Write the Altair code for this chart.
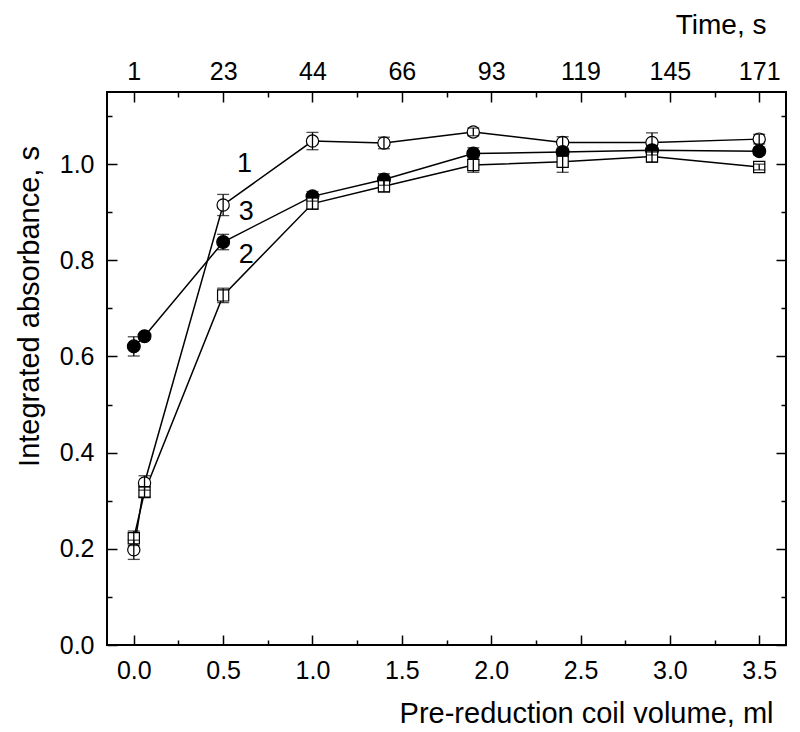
import altair as alt
import pandas as pd

# ---- data ----
volume = [0.0, 0.06, 0.5, 1.0, 1.4, 1.9, 2.4, 2.9, 3.5]

s1_vals = [0.198, 0.337, 0.915, 1.048, 1.044, 1.067, 1.045, 1.045, 1.052]
s1_errs = [0.020, 0.015, 0.022, 0.018, 0.012, 0.008, 0.012, 0.020, 0.010]

s3_vals = [0.621, 0.642, 0.838, 0.933, 0.968, 1.022, 1.025, 1.029, 1.027]
s3_errs = [0.020, 0.006, 0.016, 0.010, 0.012, 0.012, 0.008, 0.010, 0.008]

s2_vals = [0.222, 0.318, 0.727, 0.918, 0.954, 0.998, 1.005, 1.016, 0.994]
s2_errs = [0.015, 0.010, 0.015, 0.012, 0.012, 0.015, 0.022, 0.012, 0.006]

x_ticks = [0.0, 0.5, 1.0, 1.5, 2.0, 2.5, 3.0, 3.5]
time_labels = ["1", "23", "44", "66", "93", "119", "145", "171"]
x_minor = [0.25, 0.75, 1.25, 1.75, 2.25, 2.75, 3.25]
y_ticks = [0.0, 0.2, 0.4, 0.6, 0.8, 1.0]
y_minor = [0.1, 0.3, 0.5, 0.7, 0.9, 1.1]

series_names = ["1", "3", "2"]
label_x = [0.62, 0.63, 0.63]
label_y = [1.0, 0.90, 0.81]

# ---- tables ----
rows = []
for name, vals, errs in [("1", s1_vals, s1_errs), ("3", s3_vals, s3_errs), ("2", s2_vals, s2_errs)]:
    for xv, yv, e in zip(volume, vals, errs):
        rows.append({"series": name, "x": xv, "y": yv, "lo": yv - e, "hi": yv + e})
df = pd.DataFrame(rows)
labels_df = pd.DataFrame({"name": series_names, "x": label_x, "y": label_y})

FONT = "Liberation Sans"
xs = alt.Scale(domain=[-0.15, 3.65], nice=False, zero=False)
ys = alt.Scale(domain=[0, 1.15], nice=False, zero=False)

base = alt.Chart(df)

lines = base.mark_line(color="black", strokeWidth=1.5).encode(
    x=alt.X("x:Q", scale=xs, axis=None),
    y=alt.Y("y:Q", scale=ys, axis=None),
    detail="series:N",
)

def pts(series, shape, fill, size):
    return base.transform_filter(alt.datum.series == series).mark_point(
        shape=shape, filled=True, fill=fill, stroke="black", strokeWidth=1.2, size=size, opacity=1
    ).encode(
        x=alt.X("x:Q", scale=xs, axis=None),
        y=alt.Y("y:Q", scale=ys, axis=None),
    )

p1 = pts("1", "circle", "white", 150)
p3 = pts("3", "circle", "black", 165)
p2 = pts("2", "square", "white", 125)

err_rule = base.mark_rule(color="black", strokeWidth=1.3).encode(
    x=alt.X("x:Q", scale=xs, axis=None),
    y=alt.Y("lo:Q", scale=ys, axis=None),
    y2="hi:Q",
)
caps = base.transform_fold(["lo", "hi"], as_=["end", "val"]).mark_tick(
    orient="horizontal", color="black", size=12, thickness=1.3
).encode(
    x=alt.X("x:Q", scale=xs, axis=None),
    y=alt.Y("val:Q", scale=ys, axis=None),
)

texts = alt.Chart(labels_df).mark_text(font=FONT, fontSize=27, color="black").encode(
    x=alt.X("x:Q", scale=xs, axis=None),
    y=alt.Y("y:Q", scale=ys, axis=None),
    text="name:N",
)

common = dict(domain=False, grid=False, tickColor="black", tickWidth=1.5,
              labelColor="black", labelFont=FONT, titleFont=FONT,
              titleColor="black", titleFontWeight="normal",
              labelFlush=False, labelOverlap=False)

label_expr = "[" + ",".join("'" + t + "'" for t in time_labels) + "][round(datum.value*2)]"

LBL = 25
TTL = 29

ax_bottom = alt.Axis(orient="bottom", values=x_ticks, format=".1f", tickSize=10, offset=-10,
                     labelFontSize=LBL, labelPadding=13,
                     title="Pre-reduction coil volume, ml", titleFontSize=TTL,
                     titleX=666, titleY=78, titleAlign="right", titleBaseline="middle", **common)
ax_bottom_minor = alt.Axis(orient="bottom", values=x_minor, tickSize=5, offset=-5,
                           labels=False, title="", **common)
ax_top = alt.Axis(orient="top", values=x_ticks, labelExpr=label_expr, tickSize=10, offset=-10,
                  labelFontSize=LBL, labelPadding=8,
                  title="Time, s", titleFontSize=28,
                  titleX=659, titleY=-77, titleAlign="right", titleBaseline="middle", **common)
ax_top_minor = alt.Axis(orient="top", values=x_minor, tickSize=5, offset=-5,
                        labels=False, title="", **common)
ax_left = alt.Axis(orient="left", values=y_ticks, format=".1f", tickSize=10, offset=-10,
                   labelFontSize=LBL, labelPadding=13,
                   title="Integrated absorbance, s", titleFontSize=TTL,
                   titleX=-88, titleY=214, titleAlign="center", titleBaseline="middle", titleAngle=270,
                   **common)
ax_left_minor = alt.Axis(orient="left", values=y_minor, tickSize=5, offset=-5,
                         labels=False, title="", **common)
ax_right = alt.Axis(orient="right", values=y_ticks, tickSize=10, offset=-10,
                    labels=False, title="", **common)
ax_right_minor = alt.Axis(orient="right", values=y_minor, tickSize=5, offset=-5,
                          labels=False, title="", **common)

def axis_layer(xa, ya):
    return base.mark_point(opacity=0).encode(
        x=alt.X("x:Q", scale=xs, axis=xa),
        y=alt.Y("y:Q", scale=ys, axis=ya),
    )

a1 = axis_layer(ax_bottom, ax_left)
a2 = axis_layer(ax_bottom_minor, ax_left_minor)
a3 = axis_layer(ax_top, ax_right)
a4 = axis_layer(ax_top_minor, ax_right_minor)

chart = alt.layer(a1, a2, a3, a4, lines, p1, p3, p2, err_rule, caps, texts).resolve_scale(
    x="independent", y="independent"
).properties(
    width=679, height=553,
    padding={"left": 99, "top": 84, "right": 6, "bottom": 87},
    autosize="none",
    background="white",
).configure_view(stroke="black", strokeWidth=2)

chart.save("out.html", embed_options={"renderer": "svg", "actions": False})
